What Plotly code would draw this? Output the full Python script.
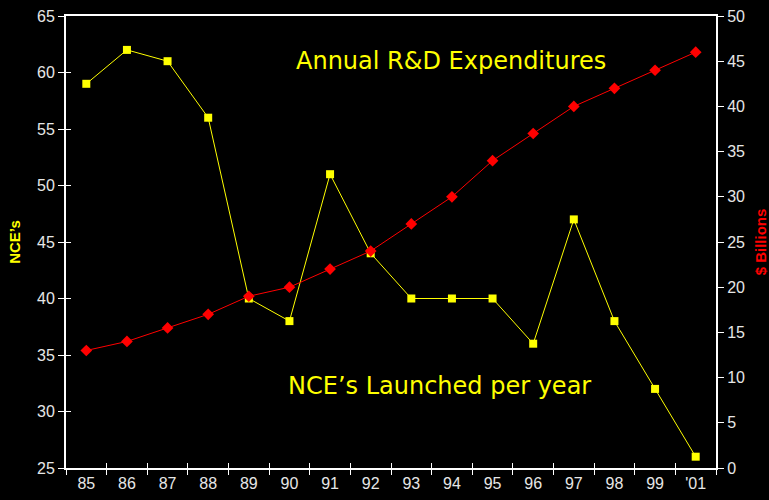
import plotly.graph_objects as go

years = ["85", "86", "87", "88", "89", "90", "91", "92", "93", "94", "95", "96", "97", "98", "99", "'01"]
nce = [59, 62, 61, 56, 40, 38, 51, 44, 40, 40, 40, 36, 47, 38, 32, 26]
rd_billions = [13, 14, 15.5, 17, 19, 20, 22, 24, 27, 30, 34, 37, 40, 42, 44, 46]

idx = list(range(len(years)))
bounds = [i - 0.5 for i in range(len(years) + 1)]
xr = [-0.5, len(years) - 0.5]

fig = go.Figure()
fig.add_trace(go.Scatter(x=idx, y=rd_billions, yaxis="y2", mode="lines+markers",
                         line=dict(color="#ff0000", width=1),
                         marker=dict(symbol="diamond", size=9, color="#ff0000"),
                         showlegend=False))
fig.add_trace(go.Scatter(x=idx, y=nce, yaxis="y", mode="lines+markers",
                         line=dict(color="#ffff00", width=1),
                         marker=dict(symbol="square", size=8, color="#ffff00"),
                         showlegend=False))
fig.add_trace(go.Scatter(x=[None], y=[None], xaxis="x2", yaxis="y3", showlegend=False, hoverinfo="skip"))

tickfont = dict(family="Liberation Sans", size=16, color="#e6e6e6")

fig.update_layout(
    width=769, height=500,
    margin=dict(l=66, r=53, t=16, b=32),
    paper_bgcolor="black", plot_bgcolor="black",
    xaxis=dict(range=xr, tickmode="array", tickvals=idx, ticktext=years,
               ticks="", showgrid=False, zeroline=False, automargin=False,
               showline=True, linecolor="white", linewidth=2, mirror=True,
               tickfont=tickfont,
               minor=dict(tickmode="array", tickvals=bounds, ticks="outside",
                          ticklen=5, tickcolor="white", tickwidth=1, showgrid=False)),
    xaxis2=dict(range=xr, overlaying="x", anchor="y", side="bottom", automargin=False,
                tickmode="array", tickvals=bounds, ticks="inside", ticklen=5,
                tickcolor="white", showticklabels=False, showgrid=False,
                zeroline=False, showline=False),
    yaxis=dict(range=[25, 65], dtick=5, ticks="outside", ticklen=6, tickcolor="white",
               showgrid=False, zeroline=False, showline=True, linecolor="white",
               linewidth=2, tickfont=tickfont, automargin=False,
               title=dict(text="<b>NCE’s</b>", standoff=13,
                          font=dict(family="Liberation Sans", size=15, color="#ffff00"))),
    yaxis3=dict(range=[25, 65], dtick=5, overlaying="y", anchor="x", side="left",
                ticks="inside", ticklen=5, tickcolor="white", showticklabels=False,
                showgrid=False, zeroline=False, showline=False, automargin=False),
    yaxis2=dict(range=[0, 50], dtick=5, overlaying="y", side="right", anchor="x",
                ticks="outside", ticklen=6, tickcolor="white", automargin=False,
                showgrid=False, zeroline=False, showline=True, linecolor="white",
                linewidth=2, tickfont=tickfont,
                title=dict(text="<b>$ Billions</b>", standoff=20,
                           font=dict(family="Liberation Sans", size=15, color="#ff0000"))),
    annotations=[
        dict(text="Annual R&D Expenditures", xref="paper", yref="paper", x=0.592, y=0.90,
             xanchor="center", yanchor="middle",
             showarrow=False, font=dict(family="DejaVu Sans", size=24, color="#ffff00")),
        dict(text="NCE’s Launched per year", xref="paper", yref="paper", x=0.574, y=0.181,
             xanchor="center", yanchor="middle",
             showarrow=False, font=dict(family="DejaVu Sans", size=24, color="#ffff00")),
    ],
)

fig.write_html("out.html")
